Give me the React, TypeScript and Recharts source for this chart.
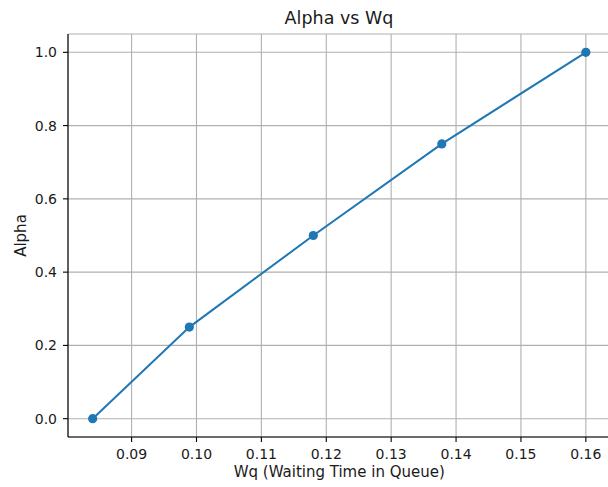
import { LineChart, Line, XAxis, YAxis, CartesianGrid } from "recharts";

// Wq (waiting time in queue) for each alpha
const wq = [0.084, 0.0989, 0.118, 0.1378, 0.16];
const alpha = [0, 0.25, 0.5, 0.75, 1.0];

const xTicks = [0.09, 0.1, 0.11, 0.12, 0.13, 0.14, 0.15, 0.16];
const yTicks = [0, 0.2, 0.4, 0.6, 0.8, 1.0];

const title = "Alpha vs Wq";
const xLabel = "Wq (Waiting Time in Queue)";
const yLabel = "Alpha";

const data = wq.map((w, i) => ({ wq: w, alpha: alpha[i] }));

const FONT = "'DejaVu Sans', sans-serif";
const BLUE = "#1f77b4";
const TICK = { fill: "#1a1a1a", fontSize: 14, fontFamily: FONT };

export default function App() {
  return (
    <div
      style={{
        position: "absolute",
        left: 0,
        top: 0,
        width: 608,
        height: 487,
        overflow: "hidden",
        background: "#fff",
      }}
    >
      <LineChart
        width={624}
        height={487}
        data={data}
        margin={{ top: 34, right: 13.5, left: 0, bottom: 0 }}
      >
        <CartesianGrid stroke="#b0b0b0" strokeWidth={1.1} />
        <XAxis
          dataKey="wq"
          type="number"
          domain={[0.0802, 0.1638]}
          allowDataOverflow
          ticks={xTicks}
          tickFormatter={(v: number) => v.toFixed(2)}
          tick={TICK}
          tickSize={5}
          tickMargin={7}
          height={50}
          axisLine={{ stroke: "#000", strokeWidth: 1.1 }}
          tickLine={{ stroke: "#000", strokeWidth: 1.1 }}
          label={{
            value: xLabel,
            position: "insideBottom",
            offset: 10,
            fill: "#1a1a1a",
            fontSize: 15,
            fontFamily: FONT,
          }}
        />
        <XAxis
          xAxisId="top"
          orientation="top"
          type="number"
          dataKey="wq"
          domain={[0.0802, 0.1638]}
          allowDataOverflow
          tick={false}
          tickLine={false}
          height={0}
          axisLine={{ stroke: "#000", strokeWidth: 1.1 }}
        />
        <YAxis
          type="number"
          domain={[-0.05, 1.05]}
          allowDataOverflow
          ticks={yTicks}
          tickFormatter={(v: number) => v.toFixed(1)}
          tick={TICK}
          tickSize={5}
          tickMargin={6}
          width={68}
          axisLine={{ stroke: "#000", strokeWidth: 1.1 }}
          tickLine={{ stroke: "#000", strokeWidth: 1.1 }}
          label={{
            content: (props: any) => {
              const vb = props.viewBox || { x: 0, y: 34, height: 403 };
              const cx = vb.x + 26;
              const cy = vb.y + vb.height / 2;
              return (
                <text
                  x={cx}
                  y={cy}
                  transform={`rotate(-90, ${cx}, ${cy})`}
                  textAnchor="middle"
                  fill="#1a1a1a"
                  fontSize={15}
                  fontFamily={FONT}
                >
                  {yLabel}
                </text>
              );
            },
          }}
        />
        <Line
          dataKey="alpha"
          stroke={BLUE}
          strokeWidth={2}
          dot={{ r: 4.6, fill: BLUE, stroke: BLUE, strokeWidth: 0 }}
          activeDot={false}
          isAnimationActive={false}
        />
        <text
          x={339}
          y={24}
          textAnchor="middle"
          fill="#1a1a1a"
          fontSize={17.5}
          fontFamily={FONT}
        >
          {title}
        </text>
      </LineChart>
    </div>
  );
}
